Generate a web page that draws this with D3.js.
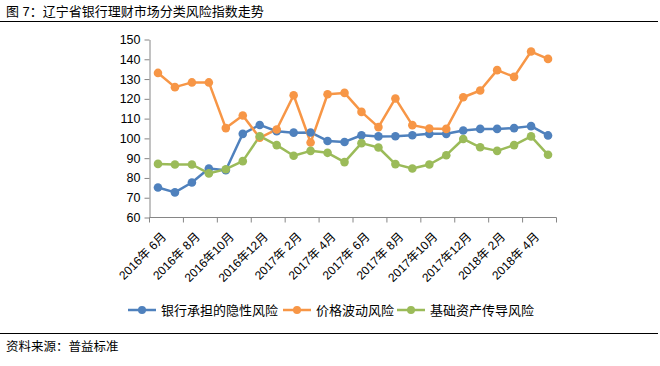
<!DOCTYPE html>
<html><head><meta charset="utf-8">
<script src="https://cdn.jsdelivr.net/npm/d3@7/dist/d3.min.js"></script>
<style>
body{margin:0;background:#fff;}
svg{display:block;font-family:"Liberation Sans","Noto Sans CJK SC",sans-serif;}
</style></head>
<body>
<svg id="c" width="660" height="366"></svg>
<script>
const categories = ["2016年6月","2016年7月","2016年8月","2016年9月","2016年10月","2016年11月","2016年12月","2017年1月","2017年2月","2017年3月","2017年4月","2017年5月","2017年6月","2017年7月","2017年8月","2017年9月","2017年10月","2017年11月","2017年12月","2018年1月","2018年2月","2018年3月","2018年4月","2018年5月"];
const bankRisk  = [75.2,72.7,77.7,84.8,83.9,102.3,106.8,103.6,102.9,103.0,98.7,98.2,101.6,101.0,101.1,101.6,102.3,102.3,104.0,104.8,104.8,105.2,106.2,101.5];
const priceRisk = [133.1,125.9,128.3,128.3,105.2,111.6,100.3,104.5,121.8,97.9,122.3,123.0,113.4,105.7,120.2,106.7,105.0,104.8,120.8,124.2,134.5,131.1,143.9,140.2];
const assetRisk = [87.1,86.8,86.8,82.3,84.4,88.5,101.1,96.6,91.2,93.7,92.7,88.0,97.6,95.4,87.0,84.8,86.8,91.5,99.7,95.5,93.7,96.6,101.0,91.7];
const seriesNames = ["银行承担的隐性风险","价格波动风险","基础资产传导风险"];
const seriesColors = ["#4F81BD","#F79646","#9BBB59"];
const yTicks = [60,70,80,90,100,110,120,130,140,150];
const titleText = "图 7：辽宁省银行理财市场分类风险指数走势";
const sourceText = "资料来源：普益标准";

const svg = d3.select("#c");
const x0 = 149.5, x1 = 556.5, yTop = 39.5, yBot = 217.5;
const x = d3.scaleBand().domain(categories).range([x0, x1]).paddingInner(0).paddingOuter(0);
const y = d3.scaleLinear().domain([60,150]).range([yBot, yTop]);

// title & rules
svg.append("text").attr("x",6).attr("y",16).attr("font-size",13).attr("fill","#000").text(titleText);
svg.append("line").attr("x1",0).attr("x2",658).attr("y1",21.5).attr("y2",21.5).attr("stroke","#000").attr("stroke-width",1.2);
svg.append("line").attr("x1",0).attr("x2",658).attr("y1",333.5).attr("y2",333.5).attr("stroke","#000").attr("stroke-width",1.2);
svg.append("text").attr("x",6).attr("y",351).attr("font-size",12.5).attr("fill","#000").text(sourceText);

// y axis
const yAxis = d3.axisLeft(y).tickValues(yTicks).tickSize(5).tickPadding(4).tickSizeOuter(0);
const gy = svg.append("g").attr("transform",`translate(${x0},0)`).call(yAxis);
gy.selectAll("text").attr("font-size",12.5).attr("fill","#000").attr("font-family","\"Liberation Sans\",sans-serif");
gy.selectAll("line").attr("stroke","#868686");
gy.select(".domain").attr("stroke","#868686");

// x axis
const tickCats = categories.filter((d,i)=>i%2===0);
const gx = svg.append("g").attr("transform",`translate(0,${yBot})`);
gx.append("line").attr("x1",x0).attr("x2",x1).attr("y1",0).attr("y2",0).attr("stroke","#868686");
const tickPos = d3.range(0, categories.length+1, 2).map(i => i < categories.length ? x(categories[i]) : x1);
gx.selectAll("line.t").data(tickPos).join("line").attr("class","t")
  .attr("x1",d=>d).attr("x2",d=>d).attr("y1",0).attr("y2",5).attr("stroke","#868686");
gx.selectAll("text.l").data(tickCats).join("text").attr("class","l")
  .attr("transform",d=>`translate(${x(d)+x.bandwidth()/2+3},${14}) rotate(-45)`)
  .attr("text-anchor","end").attr("dy","0.7em").attr("font-size",12).attr("fill","#000")
  .text(d=>d.replace(/年(\d)月/,"年 $1月"));

// series
const allSeries = [bankRisk, priceRisk, assetRisk];
const line = d3.line().x((d,i)=>x(categories[i])+x.bandwidth()/2).y(d=>y(d));
allSeries.forEach((s,k)=>{
  svg.append("path").datum(s).attr("d",line).attr("fill","none")
    .attr("stroke",seriesColors[k]).attr("stroke-width",2.5).attr("stroke-linejoin","round");
});
allSeries.forEach((s,k)=>{
  svg.append("g").selectAll("circle").data(s).join("circle")
    .attr("cx",(d,i)=>x(categories[i])+x.bandwidth()/2).attr("cy",d=>y(d)).attr("r",4.3)
    .attr("fill",seriesColors[k]);
});

// legend
const legX = [128, 283, 397];
seriesNames.forEach((n,k)=>{
  const g = svg.append("g").attr("transform",`translate(${legX[k]},310)`);
  g.append("line").attr("x1",0).attr("x2",28).attr("y1",0).attr("y2",0).attr("stroke",seriesColors[k]).attr("stroke-width",2.5);
  g.append("circle").attr("cx",14).attr("cy",0).attr("r",4).attr("fill",seriesColors[k]);
  g.append("text").attr("x",33).attr("y",4.5).attr("font-size",13).attr("fill","#000").text(n);
});
</script>
</body></html>
